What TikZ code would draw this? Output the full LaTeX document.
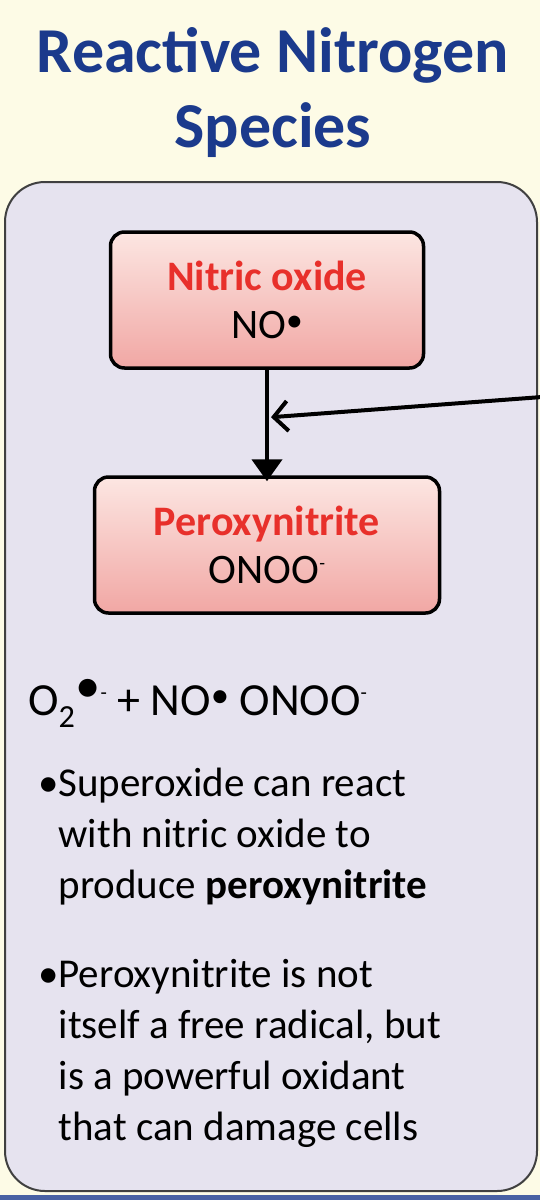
\documentclass[tikz,border=0pt]{standalone}
\usepackage{fontspec}
\setmainfont{Carlito}
\usetikzlibrary{arrows.meta, positioning, calc}
\definecolor{cream}{HTML}{FDFBE6}
\definecolor{lavender}{HTML}{E6E3EF}
\definecolor{titleblue}{HTML}{1B3A8C}
\definecolor{speciesred}{HTML}{E8302B}
\definecolor{pinktop}{HTML}{FCE6E2}
\definecolor{pinkbot}{HTML}{F1A7A4}
\newcommand{\rad}{\raisebox{0.35ex}{\scalebox{0.8}{•}}}
\newcommand{\anion}{\raisebox{0.7ex}{\scalebox{0.45}{-}}}
\tikzset{
  rns panel/.style={
    draw=black!75, line width=2pt, fill=lavender, rounded corners=40pt
  },
  rns species/.style={
    rectangle, rounded corners=14pt, draw=black, line width=3.5pt,
    top color=pinktop, bottom color=pinkbot,
    minimum height=136pt, align=center,
    font=\fontsize{42}{48}\selectfont
  },
  rns title/.style={
    font=\fontsize{64}{75}\selectfont\bfseries, text=titleblue, align=center
  },
  rns text/.style={
    font=\fontsize{41}{51}\selectfont, align=left, inner sep=0pt
  },
  rns arrow/.style={
    -{Triangle[length=22pt,width=30pt]}, line width=4.5pt
  },
  rns feed/.style={
    -{Straight Barb[length=14pt,width=30pt]}, line width=4pt
  }
}
\begin{document}
\begin{tikzpicture}[x=1pt, y=-1pt]
  \useasboundingbox (0,0) rectangle (540,1200);
  \fill[cream] (0,0) rectangle (540,1200);
  \fill[titleblue!80] (0,1195) rectangle (540,1200);

  % title (base is the last line)
  \node (title) [rns title, anchor=base] at (273,147)
    {Reactive Nitrogen\\Species};

  % panel
  \draw[rns panel] (5,182) rectangle (537,1191);

  % species boxes
  \node (no) [rns species, minimum width=313pt] at (267,300)
    {\textbf{\color{speciesred}Nitric oxide}\\NO\rad};
  \node (onoo) [rns species, minimum width=345pt] at (267,545)
    {\textbf{\color{speciesred}Peroxynitrite}\\ONOO\anion};

  \coordinate (join) at ($(no.south)!0.45!(onoo.north)$);
  \coordinate (feed) at (542,397);

  \draw[rns arrow] (no.south) -- ([yshift=-6pt]onoo.north);
  \draw[rns feed] (feed) -- ([xshift=4pt]join);

  % reaction and notes
  \node (eq) [rns text, font=\fontsize{46}{51}\selectfont, anchor=base west] at (28,715)
    {O\textsubscript{2}\raisebox{0.55ex}{\scalebox{1.1}{•}}\anion{} + NO\rad{} ONOO\anion};
  \node (note1) [rns text, anchor=base west] at (38,898)
    {•Superoxide can react\\
     \hphantom{•}with nitric oxide to\\
     \hphantom{•}produce \textbf{peroxynitrite}};
  \node (note2) [rns text, anchor=base west] at (38,1140)
    {•Peroxynitrite is not\\
     \hphantom{•}itself a free radical, but\\
     \hphantom{•}is a powerful oxidant\\
     \hphantom{•}that can damage cells};
\end{tikzpicture}
\end{document}
